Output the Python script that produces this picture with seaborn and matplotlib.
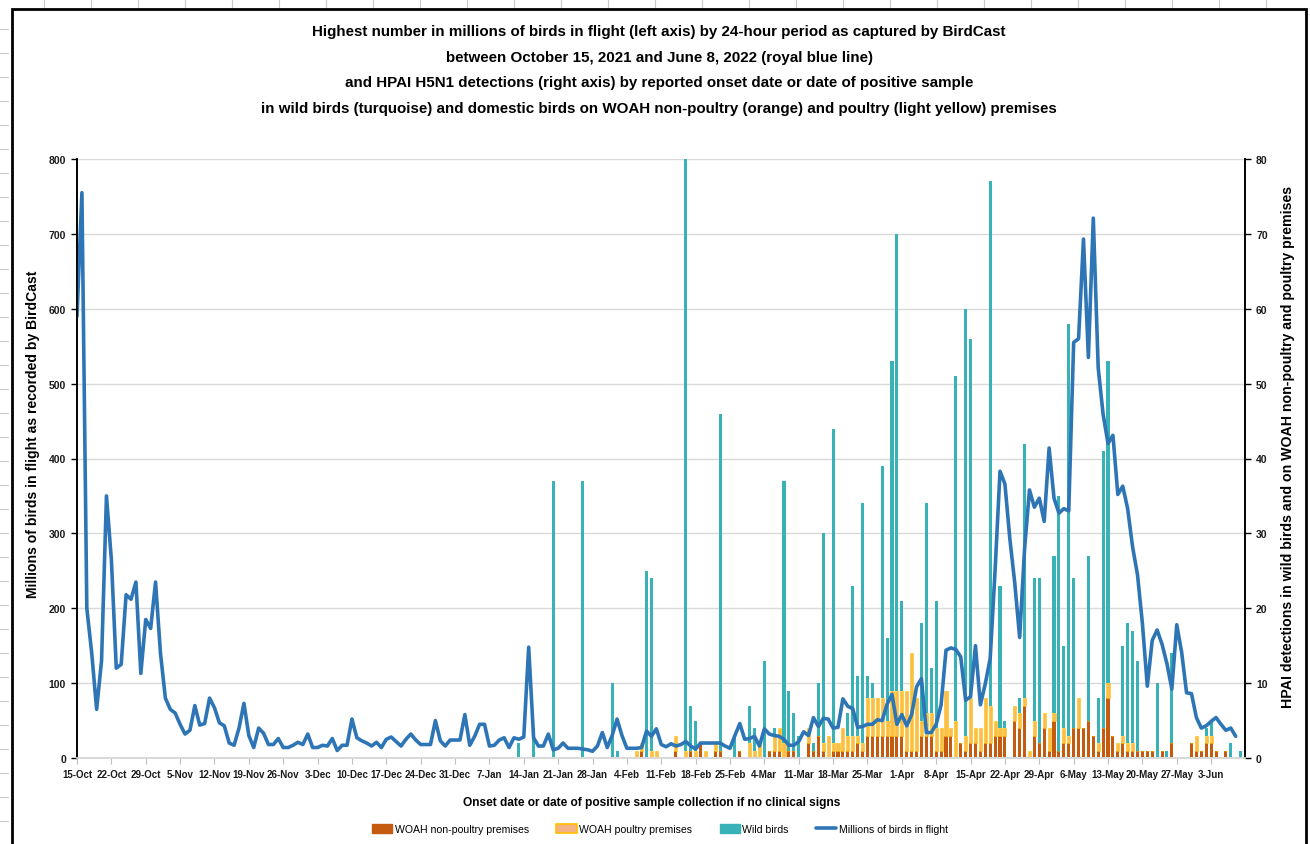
import numpy as np
import pandas as pd
import matplotlib
matplotlib.use("Agg")
import matplotlib.pyplot as plt
import seaborn as sns
from matplotlib.patches import Patch, Rectangle
from matplotlib.lines import Line2D

# ---------------------------------------------------------------------------
# Data
# ---------------------------------------------------------------------------
first_day = "2021-10-15"
last_day = "2022-06-09"

# Highest number of birds in flight per 24-hour period (millions), daily from 15 Oct 2021
birds_in_flight = [
    590, 755, 200, 140, 65, 130, 350, 265, 120, 125, 218, 212, 235, 113, 185, 173, 235,  # Oct
    140, 80, 65, 60, 45, 32, 37, 70, 44, 46, 80, 67, 47, 43, 20, 17, 40, 73, 30, 14,      # Nov
    40, 33, 18, 18, 26, 14, 14, 17, 21, 18,
    32, 14, 14, 17, 16, 26, 10, 17, 17, 52, 27, 23, 20, 16, 21, 14, 25, 28, 22, 16,        # Dec
    25, 32, 24, 18, 18, 18, 50, 23, 16, 24, 24,
    24, 58, 17, 29, 45, 45, 16, 17, 24, 27, 14, 27, 25, 28, 148, 27, 16, 16, 32, 11,      # Jan
    13, 20, 13, 13, 13, 12, 11, 9, 16, 34, 14,
    30, 52, 30, 13, 13, 13, 14, 36, 29, 39, 18, 15, 19, 16, 18, 22, 16, 12, 20, 20,       # Feb
    20, 20, 20, 16, 13, 30, 46, 25,
    26, 29, 16, 39, 32, 30, 29, 25, 17, 17, 22, 35, 30, 54, 42, 53, 52, 40, 41, 79,       # Mar
    69, 66, 41, 42, 45, 45, 51, 50, 72, 85, 45,
    58, 43, 58, 95, 106, 34, 34, 45, 71, 144, 147, 145, 135, 77, 82, 150, 71, 99, 133,    # Apr
    251, 383, 366, 293, 234, 161, 279, 358, 335, 347, 316,
    414, 347, 327, 333, 330, 555, 560, 693, 535, 721, 521, 459, 420, 431, 352, 363,       # May
    333, 282, 245, 180, 96, 157, 171, 152, 126, 92, 178, 141, 87, 86, 54,
    40, 43, 49, 54, 45, 37, 40, 29,                                                       # Jun
]

# HPAI H5N1 detections by onset date / date of positive sample
non_poultry = {
    "2022-02-07": 1, "2022-02-14": 1, "2022-02-17": 1, "2022-02-19": 2, "2022-02-22": 1,
    "2022-02-23": 1, "2022-02-27": 1, "2022-03-05": 1, "2022-03-06": 1, "2022-03-07": 1,
    "2022-03-09": 1, "2022-03-10": 1, "2022-03-13": 2, "2022-03-14": 1, "2022-03-15": 3,
    "2022-03-16": 1, "2022-03-18": 1, "2022-03-19": 1, "2022-03-20": 1, "2022-03-21": 1,
    "2022-03-22": 1, "2022-03-23": 2, "2022-03-24": 1, "2022-03-25": 3, "2022-03-26": 3,
    "2022-03-27": 3, "2022-03-28": 3, "2022-03-29": 3, "2022-03-30": 3, "2022-03-31": 3,
    "2022-04-01": 3, "2022-04-02": 1, "2022-04-03": 1, "2022-04-04": 1, "2022-04-05": 3,
    "2022-04-06": 3, "2022-04-07": 3, "2022-04-08": 1, "2022-04-09": 1, "2022-04-10": 3,
    "2022-04-11": 3, "2022-04-13": 2, "2022-04-14": 1, "2022-04-15": 2, "2022-04-16": 2,
    "2022-04-17": 1, "2022-04-18": 2, "2022-04-19": 2, "2022-04-20": 3, "2022-04-21": 3,
    "2022-04-22": 3, "2022-04-24": 5, "2022-04-25": 4, "2022-04-26": 7, "2022-04-28": 3,
    "2022-04-29": 2, "2022-04-30": 4, "2022-05-01": 1, "2022-05-02": 5, "2022-05-03": 1,
    "2022-05-04": 2, "2022-05-05": 2, "2022-05-06": 4, "2022-05-07": 4, "2022-05-08": 4,
    "2022-05-09": 5, "2022-05-10": 3, "2022-05-11": 1, "2022-05-12": 4, "2022-05-13": 8,
    "2022-05-14": 3, "2022-05-15": 1, "2022-05-16": 2, "2022-05-17": 1, "2022-05-18": 1,
    "2022-05-19": 1, "2022-05-20": 1, "2022-05-21": 1, "2022-05-22": 1, "2022-05-24": 1,
    "2022-05-26": 2, "2022-05-30": 2, "2022-05-31": 1, "2022-06-01": 1, "2022-06-02": 2,
    "2022-06-03": 2, "2022-06-04": 1, "2022-06-06": 1,
}
poultry = {
    "2022-02-06": 1, "2022-02-07": 1, "2022-02-09": 1, "2022-02-10": 1, "2022-02-14": 2,
    "2022-02-16": 1, "2022-02-18": 1, "2022-02-20": 1, "2022-02-22": 1, "2022-03-01": 2,
    "2022-03-02": 1, "2022-03-03": 2, "2022-03-06": 2, "2022-03-07": 3, "2022-03-08": 2,
    "2022-03-13": 2, "2022-03-16": 1, "2022-03-17": 3, "2022-03-18": 1, "2022-03-19": 1,
    "2022-03-20": 3, "2022-03-21": 2, "2022-03-22": 2, "2022-03-23": 1, "2022-03-24": 1,
    "2022-03-25": 5, "2022-03-26": 5, "2022-03-27": 5, "2022-03-28": 5, "2022-03-29": 2,
    "2022-03-30": 6, "2022-03-31": 6, "2022-04-01": 6, "2022-04-02": 8, "2022-04-03": 13,
    "2022-04-04": 7, "2022-04-05": 2, "2022-04-06": 3, "2022-04-07": 3, "2022-04-08": 3,
    "2022-04-09": 3, "2022-04-10": 6, "2022-04-11": 1, "2022-04-12": 5, "2022-04-14": 2,
    "2022-04-15": 6, "2022-04-16": 2, "2022-04-17": 3, "2022-04-18": 6, "2022-04-19": 5,
    "2022-04-20": 2, "2022-04-21": 1, "2022-04-22": 1, "2022-04-24": 2, "2022-04-25": 2,
    "2022-04-26": 1, "2022-04-27": 1, "2022-04-28": 2, "2022-04-30": 2, "2022-05-01": 3,
    "2022-05-02": 1, "2022-05-04": 2, "2022-05-05": 1, "2022-05-07": 4, "2022-05-11": 1,
    "2022-05-13": 2, "2022-05-15": 1, "2022-05-16": 1, "2022-05-17": 1, "2022-05-18": 1,
    "2022-05-31": 2, "2022-06-02": 1, "2022-06-03": 1,
}
wild_birds = {
    "2022-01-13": 2, "2022-01-16": 4, "2022-01-20": 37, "2022-01-26": 37, "2022-02-01": 10,
    "2022-02-02": 1, "2022-02-08": 25, "2022-02-09": 23, "2022-02-16": 79, "2022-02-17": 6,
    "2022-02-18": 4, "2022-02-23": 45, "2022-02-26": 3, "2022-03-01": 5, "2022-03-02": 3,
    "2022-03-04": 13, "2022-03-06": 1, "2022-03-08": 35, "2022-03-09": 8, "2022-03-10": 5,
    "2022-03-11": 3, "2022-03-14": 1, "2022-03-15": 7, "2022-03-16": 28, "2022-03-18": 42,
    "2022-03-21": 3, "2022-03-22": 20, "2022-03-23": 8, "2022-03-24": 32, "2022-03-25": 3,
    "2022-03-26": 2, "2022-03-28": 31, "2022-03-29": 11, "2022-03-30": 44, "2022-03-31": 61,
    "2022-04-01": 12, "2022-04-05": 13, "2022-04-06": 28, "2022-04-07": 6, "2022-04-08": 17,
    "2022-04-12": 46, "2022-04-14": 57, "2022-04-15": 48, "2022-04-19": 70, "2022-04-21": 19,
    "2022-04-22": 1, "2022-04-25": 2, "2022-04-26": 34, "2022-04-28": 19, "2022-04-29": 22,
    "2022-05-02": 21, "2022-05-03": 34, "2022-05-04": 11, "2022-05-05": 55, "2022-05-06": 20,
    "2022-05-09": 22, "2022-05-11": 6, "2022-05-12": 37, "2022-05-13": 43, "2022-05-16": 12,
    "2022-05-17": 16, "2022-05-18": 15, "2022-05-19": 12, "2022-05-23": 10, "2022-05-25": 1,
    "2022-05-26": 12, "2022-06-02": 1, "2022-06-03": 2, "2022-06-07": 2, "2022-06-09": 1,
}

title_lines = [
    "Highest number in millions of birds in flight (left axis) by 24-hour period as captured by BirdCast",
    "between October 15, 2021 and June 8, 2022 (royal blue line)",
    "and HPAI H5N1 detections (right axis) by reported onset date or date of positive sample",
    "in wild birds (turquoise) and domestic birds on WOAH non-poultry (orange) and poultry (light yellow) premises",
]
left_label = "Millions of birds in flight as recorded by BirdCast"
right_label = "HPAI detections in wild birds and on WOAH non-poultry and poultry premises"
x_label = "Onset date or date of positive sample collection if no clinical signs"
legend_labels = ["WOAH non-poultry premises", "WOAH poultry premises", "Wild birds",
                 "Millions of birds in flight"]

# ---------------------------------------------------------------------------
# Daily frame
# ---------------------------------------------------------------------------
dates = pd.date_range(first_day, last_day, freq="D")
frame = pd.DataFrame(index=dates)
for name, src in (("non_poultry", non_poultry), ("poultry", poultry), ("wild", wild_birds)):
    s = pd.Series(src, dtype=float)
    s.index = pd.to_datetime(s.index)
    frame[name] = s.reindex(dates).fillna(0.0)
frame["pos"] = np.arange(len(dates))
line_df = pd.DataFrame({"pos": frame["pos"].values[:len(birds_in_flight)],
                        "millions": birds_in_flight})

C_NONPOULTRY = "#C55A11"
C_POULTRY = "#FBBE4E"
C_POULTRY_EDGE = "#FFC000"
C_WILD = "#38B2B7"
C_LINE = "#2E75B6"

sns.set_theme(style="white")
plt.rcParams["font.family"] = ["Liberation Sans", "DejaVu Sans"]
plt.rcParams["text.color"] = "black"
plt.rcParams["axes.labelcolor"] = "black"

W, H = 1310, 845
fig = plt.figure(figsize=(W / 100, H / 100), dpi=100)
fig.patch.set_facecolor("white")

# faint worksheet cell marks around the chart object
for xm in np.arange(44, W, 47):
    fig.add_artist(Line2D([xm / W, xm / W], [1 - 0 / H, 1 - 8 / H], transform=fig.transFigure,
                          color="#C8C8C8", linewidth=0.8))
for ym in np.arange(30, H, 24):
    fig.add_artist(Line2D([0, 8 / W], [1 - ym / H, 1 - ym / H], transform=fig.transFigure,
                          color="#C8C8C8", linewidth=0.8))

x0, x1, y0, y1 = 77, 1245, 160, 759
ax = fig.add_axes([x0 / W, 1 - y1 / H, (x1 - x0) / W, (y1 - y0) / H])

# stacked detection bars (right scale)
bw = 0.62
pos = frame["pos"].values
ax.bar(pos, frame["non_poultry"], width=bw, color=C_NONPOULTRY, linewidth=0, zorder=2)
ax.bar(pos, frame["poultry"], bottom=frame["non_poultry"], width=bw, color=C_POULTRY,
       edgecolor=C_POULTRY_EDGE, linewidth=0.4, zorder=2)
ax.bar(pos, frame["wild"], bottom=frame["non_poultry"] + frame["poultry"], width=bw,
       color=C_WILD, linewidth=0, zorder=2)
ax.set_ylim(0, 80)
ax.set_yticks(np.arange(0, 81, 10))
ax.set_axisbelow(True)
ax.yaxis.grid(True, color="#D9D9D9", linewidth=1.0)
ax.xaxis.grid(False)

# birds in flight line (left scale)
ax2 = ax.twinx()
sns.lineplot(data=line_df, x="pos", y="millions", ax=ax2, color=C_LINE, linewidth=2.6,
             legend=False)
ax2.set_ylim(0, 800)
ax2.set_yticks(np.arange(0, 801, 100))

ax.yaxis.tick_right()
ax2.yaxis.tick_left()

ax.set_xlim(0, 237.9)
week_pos = pos[::7]
ax.set_xticks(week_pos)
ax.set_xticklabels([d.strftime("%-d-%b") for d in dates[::7]])

for a in (ax, ax2):
    a.spines["top"].set_visible(False)
    a.spines["bottom"].set_color("#D9D9D9")
    a.spines["left"].set_color("black")
    a.spines["right"].set_color("black")
    a.spines["left"].set_linewidth(1.2)
    a.spines["right"].set_linewidth(1.2)
ax.tick_params(axis="y", right=True, left=False, length=4, width=1, color="black",
               labelsize=7.5, pad=4, labelcolor="#1a1a1a")
ax2.tick_params(axis="y", left=True, right=False, length=4, width=1, color="black",
                labelsize=7.5, pad=4, labelcolor="#1a1a1a")
ax.tick_params(axis="x", bottom=True, length=4, width=0.8, color="#BFBFBF",
               labelsize=7, pad=4, labelcolor="#1a1a1a")
for lab in ax.get_xticklabels() + ax.get_yticklabels() + ax2.get_yticklabels():
    lab.set_fontweight("bold")
ax2.set_xlabel("")
ax2.set_ylabel("")
ax.set_ylabel("")
ax.set_xlabel("")

# axis titles
fig.text(33 / W, 1 - 434 / H, left_label, rotation=90, ha="center", va="center",
         fontsize=10.1, fontweight="bold")
fig.text(1288 / W, 1 - 447 / H, right_label, rotation=90, ha="center", va="center",
         fontsize=10.2, fontweight="bold")
fig.text(652 / W, 1 - 803 / H, x_label, ha="center", va="center",
         fontsize=8.6, fontweight="bold")

# title block
for i, line in enumerate(title_lines):
    fig.text(659 / W, 1 - (32 + 25.7 * i) / H, line, ha="center", va="center",
             fontsize=10.9, fontweight="bold")

# legend
handles = [Patch(facecolor=C_NONPOULTRY, edgecolor=C_NONPOULTRY),
           Patch(facecolor="#F4B183", edgecolor=C_POULTRY_EDGE, linewidth=1.2),
           Patch(facecolor=C_WILD, edgecolor=C_WILD),
           Line2D([0], [0], color=C_LINE, linewidth=2.6)]
fig.legend(handles, legend_labels, loc="center", bbox_to_anchor=(660 / W, 1 - 830 / H),
           ncol=4, frameon=False, fontsize=7.6, handlelength=1.9, handleheight=0.9,
           handletextpad=0.25, columnspacing=2.6)

# outer chart border
fig.add_artist(Rectangle((12 / W, -0.01), (1306 - 12) / W, 1 - 10 / H + 0.01,
                         transform=fig.transFigure, fill=False, edgecolor="black",
                         linewidth=2.0))

fig.savefig("out.png", dpi=100)
